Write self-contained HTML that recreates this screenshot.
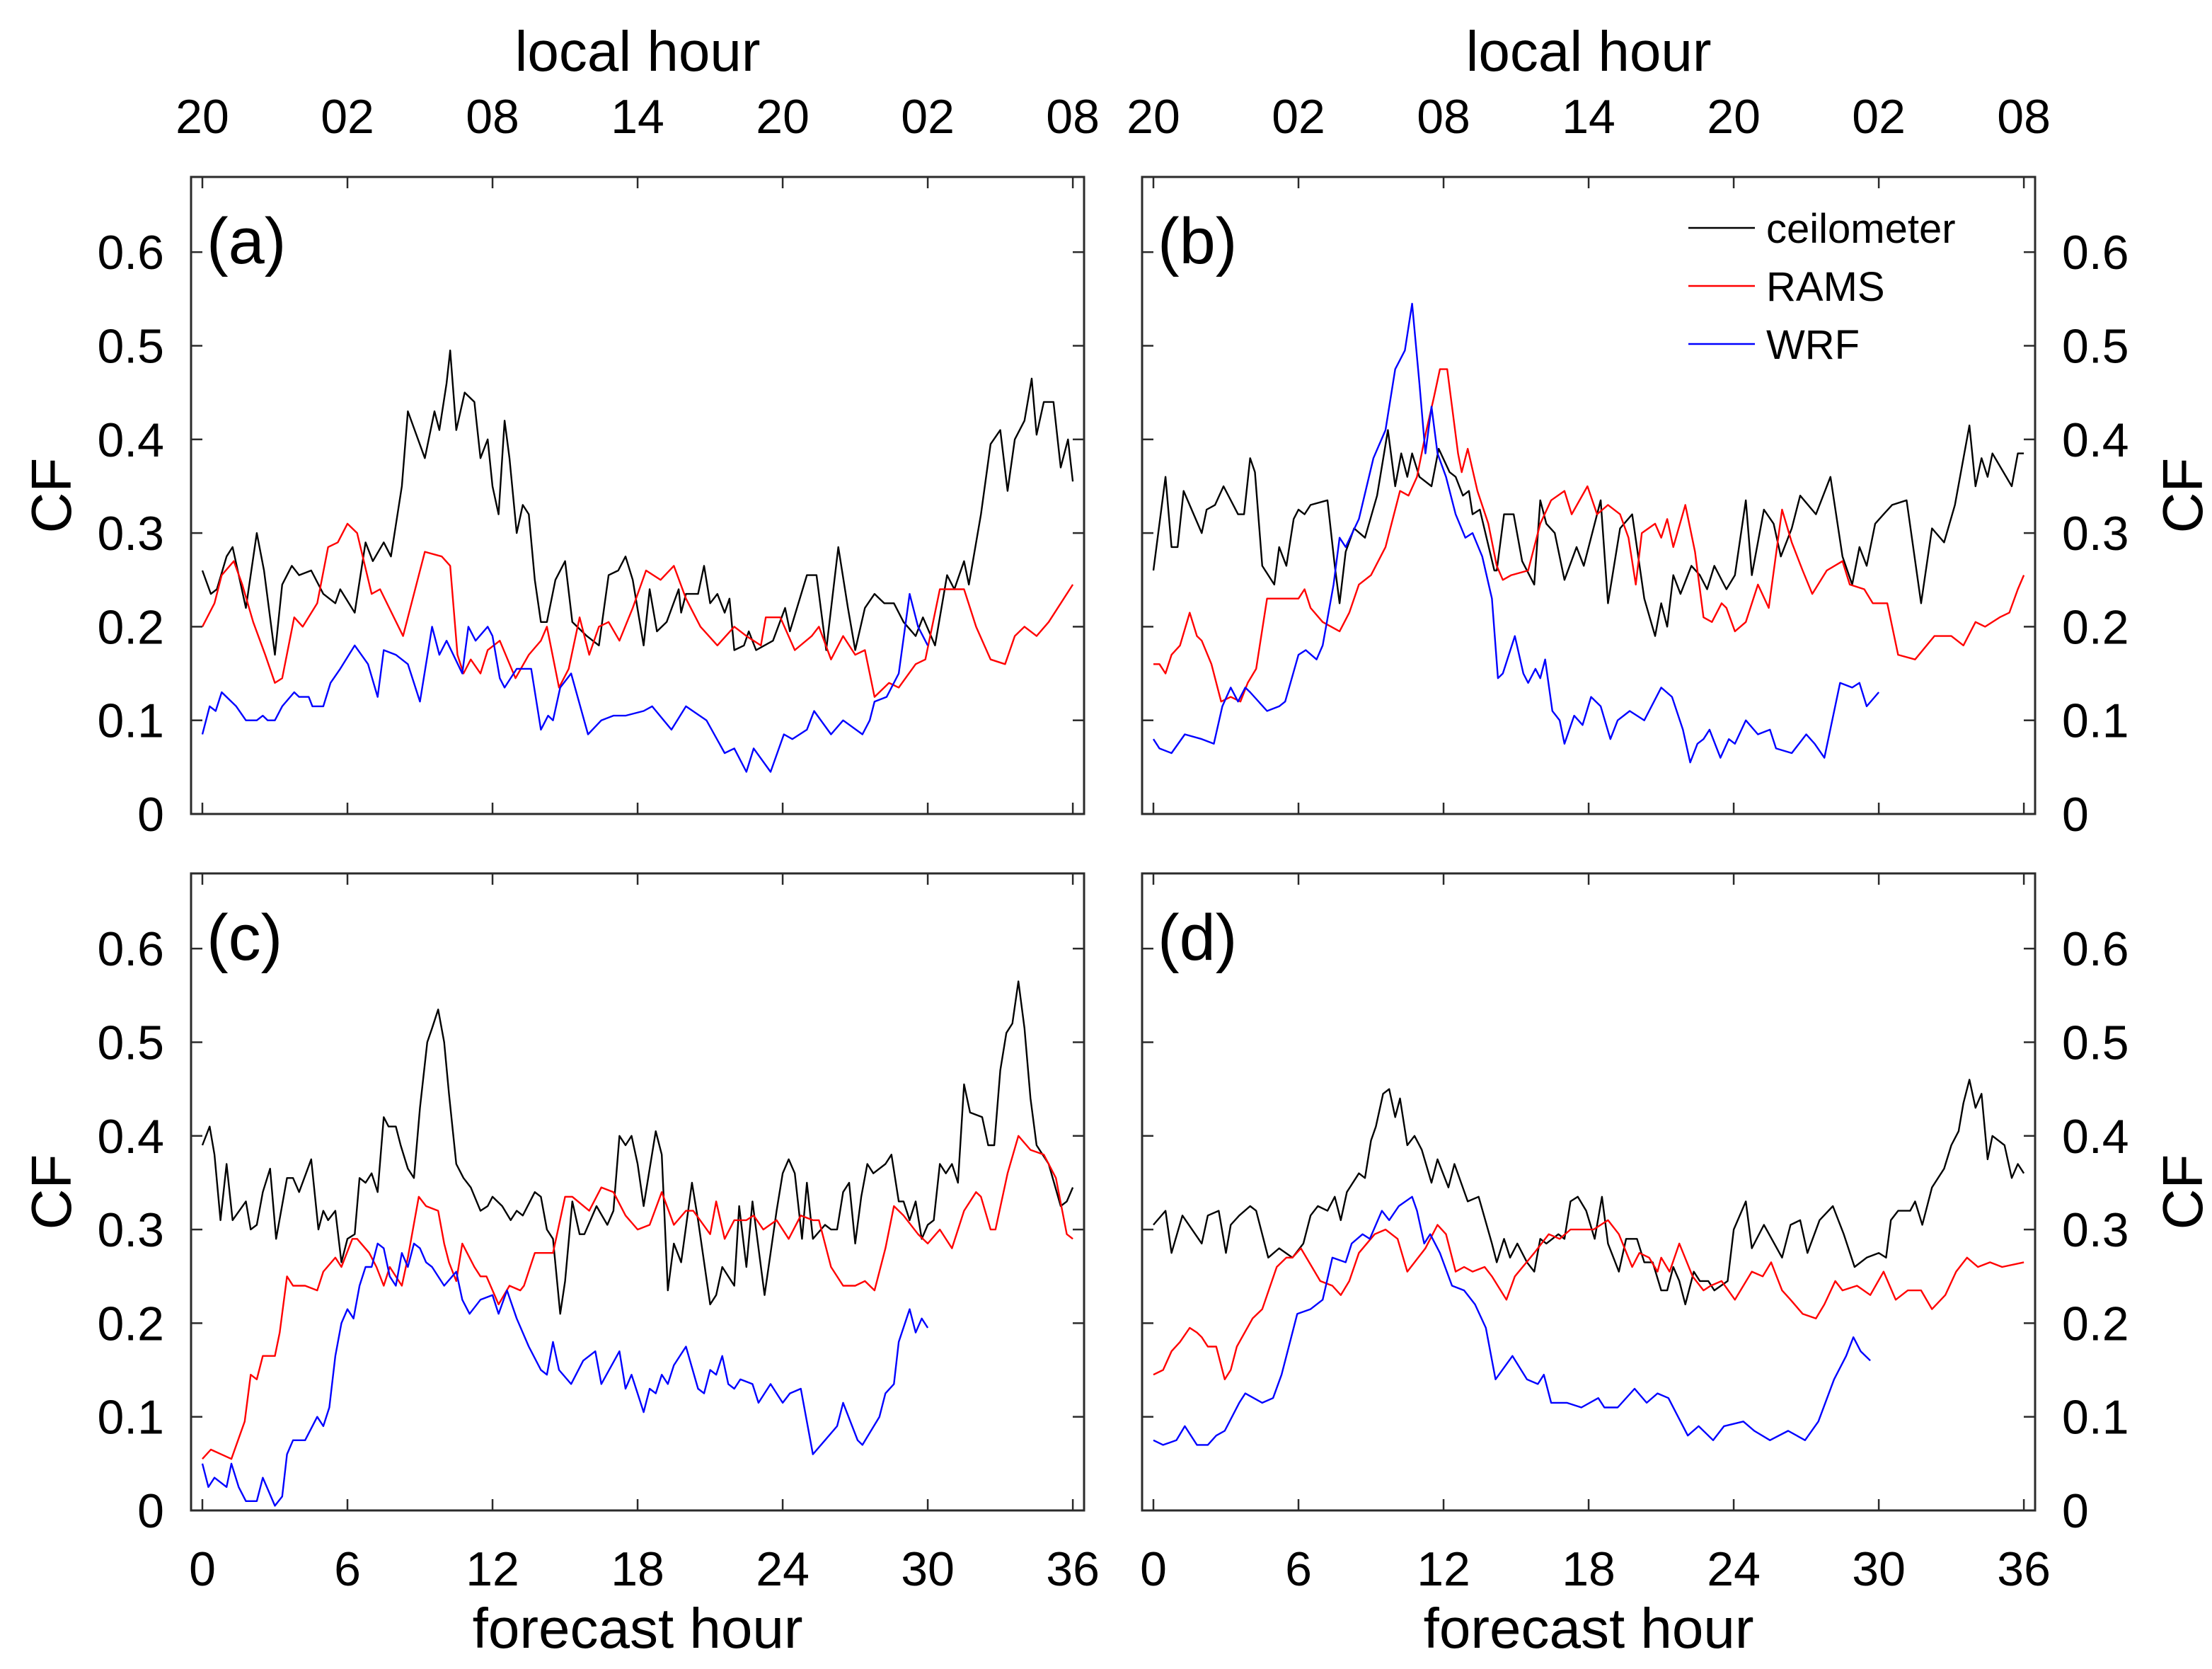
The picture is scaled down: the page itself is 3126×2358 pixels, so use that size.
<!DOCTYPE html>
<html><head><meta charset="utf-8"><style>
html,body{margin:0;padding:0;background:#fff}
svg{display:block;font-family:"Liberation Sans",Arial,sans-serif}
</style></head><body>
<svg id="chart" width="3126" height="2358" viewBox="0 0 3126 2358" xmlns="http://www.w3.org/2000/svg"></svg>
<script>
// ---- data (forecast hour, cloud fraction) ----
const xTicks=[0,6,12,18,24,30,36];
const localTicks=["20","02","08","14","20","02","08"];
const yTicks=[0,0.1,0.2,0.3,0.4,0.5,0.6];
const yTickLabels=["0","0.1","0.2","0.3","0.4","0.5","0.6"];

const aCeilH=[0,0.35,0.6,1,1.25,1.8,2.25,2.55,3,3.3,3.7,4,4.5,5,5.5,5.7,6.3,6.75,7.05,7.5,7.8,8.25,8.5,9.2,9.6,9.8,10.1,10.25,10.5,10.85,11.25,11.5,11.8,12,12.25,12.5,12.7,13,13.25,13.5,13.75,14,14.25,14.6,15,15.3,15.9,16.4,16.8,17.2,17.5,17.8,18.25,18.5,18.8,19.2,19.7,19.8,20,20.5,20.75,21,21.3,21.6,21.8,22,22.4,22.6,22.9,23.6,24.1,24.3,25,25.4,25.8,26.3,26.7,27,27.4,27.8,28.2,28.6,29,29.5,29.8,30.3,30.8,31.1,31.5,31.7,32.2,32.6,33,33.3,33.6,34,34.3,34.5,34.8,35.2,35.5,35.8,36];
const aCeilV=[0.26,0.235,0.24,0.275,0.285,0.22,0.30,0.26,0.17,0.245,0.265,0.255,0.26,0.235,0.225,0.24,0.215,0.29,0.27,0.29,0.275,0.35,0.43,0.38,0.43,0.41,0.46,0.495,0.41,0.45,0.44,0.38,0.40,0.35,0.32,0.42,0.38,0.30,0.33,0.32,0.25,0.205,0.205,0.25,0.27,0.205,0.19,0.18,0.255,0.26,0.275,0.25,0.18,0.24,0.195,0.205,0.24,0.215,0.235,0.235,0.265,0.225,0.235,0.215,0.23,0.175,0.18,0.195,0.175,0.185,0.22,0.195,0.255,0.255,0.175,0.285,0.22,0.175,0.22,0.235,0.225,0.225,0.205,0.19,0.21,0.18,0.255,0.24,0.27,0.245,0.32,0.395,0.41,0.345,0.40,0.42,0.465,0.405,0.44,0.44,0.37,0.40,0.355];
const aRamsH=[0,0.5,0.8,1.3,1.65,2.1,2.6,3,3.3,3.8,4.15,4.75,5.2,5.6,6,6.4,7,7.35,8.3,8.8,9.2,9.9,10.25,10.55,10.8,11.1,11.5,11.8,12.3,12.95,13.5,14,14.25,14.75,15.15,15.6,16,16.4,16.8,17.25,17.8,18.35,18.95,19.5,20,20.6,21.3,22,22.5,23.1,23.3,23.9,24.5,25.2,25.5,26,26.5,27,27.4,27.8,28.4,28.8,29.5,29.9,30.5,31.5,32,32.6,33.2,33.6,34,34.5,35,36];
const aRamsV=[0.20,0.225,0.255,0.27,0.245,0.205,0.17,0.14,0.145,0.21,0.20,0.225,0.285,0.29,0.31,0.30,0.235,0.24,0.19,0.24,0.28,0.275,0.265,0.17,0.15,0.165,0.15,0.175,0.185,0.145,0.17,0.185,0.20,0.135,0.155,0.21,0.17,0.20,0.205,0.185,0.22,0.26,0.25,0.265,0.23,0.20,0.18,0.20,0.19,0.18,0.21,0.21,0.175,0.19,0.20,0.165,0.19,0.17,0.175,0.125,0.14,0.135,0.16,0.165,0.24,0.24,0.20,0.165,0.16,0.19,0.20,0.19,0.205,0.245];
const aWrfH=[0,0.3,0.55,0.8,1.4,1.8,2.25,2.5,2.7,3,3.3,3.8,4,4.4,4.55,5,5.3,5.7,6.3,6.85,7.25,7.5,8,8.5,9,9.5,9.8,10.1,10.75,11,11.3,11.8,12,12.3,12.5,13,13.6,14,14.3,14.5,14.8,15.25,15.95,16.5,17,17.5,18.25,18.6,19.4,20,20.85,21.6,22,22.5,22.8,23.5,24.05,24.4,25,25.3,26,26.5,27.3,27.6,27.8,28.3,28.8,29.25,29.6,30];
const aWrfV=[0.085,0.115,0.11,0.13,0.115,0.10,0.10,0.105,0.10,0.10,0.115,0.13,0.125,0.125,0.115,0.115,0.14,0.155,0.18,0.16,0.125,0.175,0.17,0.16,0.12,0.20,0.17,0.185,0.15,0.20,0.185,0.20,0.19,0.145,0.135,0.155,0.155,0.09,0.105,0.10,0.135,0.15,0.085,0.10,0.105,0.105,0.11,0.115,0.09,0.115,0.10,0.065,0.07,0.045,0.07,0.045,0.085,0.08,0.09,0.11,0.085,0.10,0.085,0.10,0.12,0.125,0.15,0.235,0.20,0.18];

const bCeilH=[0,0.5,0.75,1,1.25,2,2.2,2.55,2.9,3.5,3.75,4,4.2,4.5,5,5.2,5.5,5.8,6,6.25,6.5,7.2,7.5,7.7,7.95,8.3,8.75,9.25,9.7,10,10.25,10.5,10.7,11,11.5,11.8,12.25,12.5,12.8,13.05,13.2,13.5,14.1,14.2,14.5,14.9,15.25,15.75,16,16.25,16.6,17,17.5,17.8,18.5,18.8,19.3,19.8,20.3,20.75,21,21.25,21.5,21.8,22.25,22.6,22.9,23.2,23.7,24.05,24.5,24.75,25.25,25.65,25.95,26.4,26.75,27.4,28,28.5,28.9,29.2,29.5,29.85,30.2,30.55,31.15,31.75,32.2,32.7,33.15,33.75,34,34.25,34.5,34.7,35.5,35.75,36];
const bCeilV=[0.26,0.36,0.285,0.285,0.345,0.30,0.325,0.33,0.35,0.32,0.32,0.38,0.365,0.265,0.245,0.285,0.265,0.315,0.325,0.32,0.33,0.335,0.265,0.225,0.28,0.305,0.295,0.34,0.41,0.35,0.385,0.36,0.385,0.36,0.35,0.39,0.365,0.36,0.34,0.345,0.32,0.325,0.26,0.26,0.32,0.32,0.27,0.245,0.335,0.31,0.30,0.25,0.285,0.265,0.335,0.225,0.305,0.32,0.23,0.19,0.225,0.20,0.255,0.235,0.265,0.255,0.24,0.265,0.24,0.255,0.335,0.255,0.325,0.31,0.275,0.305,0.34,0.32,0.36,0.275,0.245,0.285,0.265,0.31,0.32,0.33,0.335,0.225,0.305,0.29,0.33,0.415,0.35,0.38,0.36,0.385,0.35,0.385,0.385];
const bRamsH=[0,0.25,0.5,0.75,1.1,1.5,1.8,2,2.4,2.8,3.2,3.6,3.9,4.25,4.7,5.3,6,6.25,6.5,7,7.7,8.1,8.5,9,9.6,10.2,10.55,10.9,11.25,11.6,11.85,12.15,12.6,12.75,13,13.4,13.85,14.2,14.45,14.8,15.5,16,16.45,17,17.3,17.95,18.35,18.8,19.3,19.65,19.95,20.2,20.75,21,21.25,21.5,22,22.4,22.75,23.1,23.5,23.7,24.05,24.5,25,25.45,26,26.4,26.85,27.25,27.85,28.5,28.8,29.4,29.75,30.35,30.8,31.5,32.3,33,33.5,34,34.4,35,35.4,35.75,36];
const bRamsV=[0.16,0.16,0.15,0.17,0.18,0.215,0.19,0.185,0.16,0.12,0.125,0.12,0.14,0.155,0.23,0.23,0.23,0.24,0.22,0.205,0.195,0.215,0.245,0.255,0.285,0.345,0.34,0.36,0.405,0.445,0.475,0.475,0.385,0.365,0.39,0.345,0.31,0.265,0.25,0.255,0.26,0.31,0.335,0.345,0.32,0.35,0.32,0.33,0.32,0.295,0.245,0.30,0.31,0.295,0.315,0.285,0.33,0.28,0.21,0.205,0.225,0.22,0.195,0.205,0.245,0.22,0.325,0.29,0.26,0.235,0.26,0.27,0.245,0.24,0.225,0.225,0.17,0.165,0.19,0.19,0.18,0.205,0.20,0.21,0.215,0.24,0.255];
const bWrfH=[0,0.25,0.75,1.3,2,2.5,2.85,3.2,3.5,3.8,4,4.7,5.2,5.45,6,6.3,6.75,7,7.45,7.7,7.95,8.5,9.1,9.6,10,10.4,10.7,11,11.25,11.5,11.75,12.1,12.5,12.9,13.2,13.6,14,14.25,14.45,14.95,15.3,15.5,15.8,16,16.2,16.5,16.8,17,17.4,17.75,18.1,18.5,18.9,19.2,19.7,20.3,21,21.45,21.9,22.2,22.5,22.75,23,23.45,23.8,24.05,24.5,25,25.5,25.75,26.4,27,27.35,27.75,28.4,28.9,29.2,29.5,30];
const bWrfV=[0.08,0.07,0.065,0.085,0.08,0.075,0.115,0.135,0.12,0.135,0.13,0.11,0.115,0.12,0.17,0.175,0.165,0.18,0.245,0.295,0.285,0.315,0.38,0.41,0.475,0.495,0.545,0.46,0.385,0.435,0.385,0.36,0.32,0.295,0.30,0.275,0.23,0.145,0.15,0.19,0.15,0.14,0.155,0.145,0.165,0.11,0.10,0.075,0.105,0.095,0.125,0.115,0.08,0.10,0.11,0.10,0.135,0.125,0.09,0.055,0.075,0.08,0.09,0.06,0.08,0.075,0.10,0.085,0.09,0.07,0.065,0.085,0.075,0.06,0.14,0.135,0.14,0.115,0.13];

const cCeilH=[0,0.3,0.5,0.75,1,1.25,1.8,2,2.25,2.5,2.8,3.05,3.5,3.75,4,4.5,4.8,5,5.2,5.5,5.75,6,6.3,6.5,6.75,7,7.25,7.5,7.7,8,8.2,8.5,8.75,9,9.3,9.5,9.75,10,10.2,10.5,10.8,11.1,11.5,11.8,12,12.4,12.75,13,13.25,13.75,14,14.25,14.5,14.8,15,15.3,15.6,15.8,16.3,16.75,17,17.25,17.5,17.75,18,18.25,18.75,19,19.25,19.5,19.8,20.25,20.5,21,21.25,21.5,22,22.2,22.5,22.75,23.25,23.75,24,24.25,24.5,24.8,25,25.25,25.75,26,26.25,26.5,26.75,27,27.25,27.5,27.75,28.25,28.5,28.8,29,29.25,29.5,29.75,30,30.25,30.5,30.75,31,31.25,31.5,31.75,32.25,32.5,32.75,33,33.25,33.5,33.75,34,34.25,34.5,35,35.5,35.75,36];
const cCeilV=[0.39,0.41,0.38,0.31,0.37,0.31,0.33,0.30,0.305,0.34,0.365,0.29,0.355,0.355,0.34,0.375,0.30,0.32,0.31,0.32,0.265,0.29,0.295,0.355,0.35,0.36,0.34,0.42,0.41,0.41,0.39,0.365,0.355,0.43,0.50,0.515,0.535,0.50,0.445,0.37,0.355,0.345,0.32,0.325,0.335,0.325,0.31,0.32,0.315,0.34,0.335,0.30,0.29,0.21,0.245,0.33,0.295,0.295,0.325,0.305,0.32,0.40,0.39,0.40,0.37,0.325,0.405,0.38,0.235,0.285,0.265,0.35,0.31,0.22,0.23,0.26,0.24,0.325,0.26,0.33,0.23,0.32,0.36,0.375,0.36,0.29,0.35,0.29,0.305,0.30,0.30,0.34,0.35,0.285,0.335,0.37,0.36,0.37,0.38,0.33,0.33,0.31,0.33,0.29,0.305,0.31,0.37,0.36,0.37,0.35,0.455,0.425,0.42,0.39,0.39,0.47,0.51,0.52,0.565,0.515,0.44,0.39,0.37,0.325,0.33,0.345];
const cRamsH=[0,0.35,1.2,1.75,2,2.25,2.5,3,3.2,3.5,3.75,4.25,4.75,5,5.5,5.75,6.2,6.4,6.9,7.2,7.5,7.75,8.25,8.5,8.95,9.25,9.75,10,10.2,10.5,10.75,11.25,11.5,11.75,12.25,12.7,13.15,13.3,13.75,14.5,15,15.3,16,16.5,17,17.5,18,18.5,19,19.5,20,20.3,21,21.25,21.6,22,22.5,22.8,23.2,23.75,24.25,24.75,25.25,25.5,26,26.5,27,27.4,27.8,28.25,28.6,29,29.6,30,30.5,31,31.5,32,32.2,32.6,32.8,33.3,33.75,34.25,34.8,35.3,35.75,36];
const cRamsV=[0.055,0.065,0.055,0.095,0.145,0.14,0.165,0.165,0.19,0.25,0.24,0.24,0.235,0.255,0.27,0.26,0.29,0.29,0.275,0.26,0.24,0.26,0.24,0.27,0.335,0.325,0.32,0.285,0.265,0.245,0.285,0.26,0.25,0.25,0.22,0.24,0.235,0.24,0.275,0.275,0.335,0.335,0.32,0.345,0.34,0.315,0.30,0.305,0.34,0.305,0.32,0.32,0.295,0.33,0.29,0.31,0.31,0.315,0.30,0.31,0.29,0.315,0.31,0.31,0.26,0.24,0.24,0.245,0.235,0.28,0.325,0.315,0.295,0.285,0.30,0.28,0.32,0.34,0.335,0.30,0.30,0.36,0.40,0.385,0.38,0.355,0.295,0.29];
const cWrfH=[0,0.25,0.5,1,1.2,1.5,1.8,2.25,2.5,3,3.3,3.5,3.75,4.25,4.75,5,5.25,5.5,5.75,6,6.25,6.5,6.75,7,7.25,7.5,7.75,8,8.25,8.5,8.75,9,9.25,9.5,10,10.5,10.75,11.05,11.5,12,12.25,12.6,13,13.5,14,14.25,14.5,14.75,15.25,15.75,16.25,16.5,17.25,17.5,17.75,18.25,18.5,18.75,19,19.25,19.5,20,20.5,20.75,21,21.25,21.5,21.75,22,22.25,22.75,23,23.5,24,24.3,24.75,25.25,25.75,26.25,26.5,27.1,27.3,28,28.25,28.6,28.8,29.25,29.5,29.75,30];
const cWrfV=[0.05,0.025,0.035,0.025,0.05,0.025,0.01,0.01,0.035,0.005,0.015,0.06,0.075,0.075,0.10,0.09,0.11,0.165,0.20,0.215,0.205,0.24,0.26,0.26,0.285,0.28,0.25,0.24,0.275,0.26,0.285,0.28,0.265,0.26,0.24,0.255,0.225,0.21,0.225,0.23,0.21,0.235,0.205,0.175,0.15,0.145,0.18,0.15,0.135,0.16,0.17,0.135,0.17,0.13,0.145,0.105,0.13,0.125,0.145,0.135,0.155,0.175,0.13,0.125,0.15,0.145,0.165,0.135,0.13,0.14,0.135,0.115,0.135,0.115,0.125,0.13,0.06,0.075,0.09,0.115,0.075,0.07,0.10,0.125,0.135,0.18,0.215,0.19,0.205,0.195];

const dCeilH=[0,0.5,0.75,1.2,2,2.25,2.7,3,3.2,3.55,4,4.25,4.75,5.2,5.75,6.2,6.5,6.8,7.2,7.5,7.75,8,8.5,8.75,9,9.2,9.5,9.75,10,10.2,10.5,10.8,11.1,11.5,11.75,12.2,12.45,13,13.45,14,14.2,14.5,14.75,15.05,15.45,15.75,16,16.25,16.75,17,17.25,17.55,17.9,18.25,18.55,18.8,19.25,19.55,20,20.3,20.65,21,21.25,21.5,21.75,22,22.35,22.6,22.95,23.2,23.75,24,24.5,24.75,25.25,26,26.35,26.75,27.05,27.55,28.1,28.55,29,29.5,30,30.3,30.5,30.8,31.3,31.5,31.8,32.2,32.7,33,33.3,33.5,33.75,34,34.25,34.5,34.7,35.2,35.5,35.75,36];
const dCeilV=[0.305,0.32,0.275,0.315,0.285,0.315,0.32,0.275,0.305,0.315,0.325,0.32,0.27,0.28,0.27,0.285,0.315,0.325,0.32,0.335,0.31,0.34,0.36,0.355,0.395,0.41,0.445,0.45,0.42,0.44,0.39,0.40,0.385,0.35,0.375,0.345,0.37,0.33,0.335,0.285,0.265,0.29,0.27,0.285,0.265,0.255,0.29,0.285,0.295,0.29,0.33,0.335,0.32,0.29,0.335,0.285,0.255,0.29,0.29,0.265,0.265,0.235,0.235,0.26,0.245,0.22,0.255,0.245,0.245,0.235,0.245,0.30,0.33,0.28,0.305,0.27,0.305,0.31,0.275,0.31,0.325,0.295,0.26,0.27,0.275,0.27,0.31,0.32,0.32,0.33,0.305,0.345,0.365,0.39,0.405,0.435,0.46,0.43,0.445,0.375,0.40,0.39,0.355,0.37,0.36];
const dRamsH=[0,0.4,0.75,1.1,1.5,1.8,2,2.25,2.6,2.95,3.2,3.45,4.1,4.5,5.1,5.5,5.75,6.1,6.9,7.4,7.75,8.1,8.5,9.15,9.6,10.1,10.5,11.25,11.75,12.1,12.5,12.85,13.2,13.7,14,14.6,14.95,15.75,16.35,16.8,17.25,17.75,18.2,18.8,19.25,19.8,20.1,20.5,20.85,21,21.35,21.75,22.3,22.75,23.05,23.5,24.05,24.75,25.2,25.55,26,26.35,26.85,27.4,27.75,28.2,28.5,29.1,29.65,30.2,30.7,31.2,31.75,32.2,32.75,33.2,33.65,34.1,34.6,35.1,36];
const dRamsV=[0.145,0.15,0.17,0.18,0.195,0.19,0.185,0.175,0.175,0.14,0.15,0.175,0.205,0.215,0.26,0.27,0.27,0.28,0.245,0.24,0.23,0.245,0.275,0.295,0.30,0.29,0.255,0.28,0.305,0.295,0.255,0.26,0.255,0.26,0.25,0.225,0.25,0.275,0.295,0.29,0.30,0.30,0.30,0.31,0.295,0.26,0.275,0.27,0.255,0.27,0.255,0.285,0.25,0.235,0.24,0.245,0.225,0.255,0.25,0.265,0.235,0.225,0.21,0.205,0.22,0.245,0.235,0.24,0.23,0.255,0.225,0.235,0.235,0.215,0.23,0.255,0.27,0.26,0.265,0.26,0.265];
const dWrfH=[0,0.4,0.95,1.3,1.8,2.25,2.6,2.95,3.55,3.8,4.5,4.95,5.3,5.95,6.5,7,7.4,7.95,8.2,8.65,8.95,9.45,9.75,10.15,10.7,10.9,11.2,11.45,11.85,12.35,12.85,13.3,13.75,14.15,14.85,15.45,15.9,16.15,16.45,17.1,17.7,18.4,18.65,19.2,19.9,20.4,20.85,21.3,22.1,22.55,23.15,23.6,24.4,24.85,25.5,26.25,26.95,27.5,28.15,28.65,28.95,29.25,29.65];
const dWrfV=[0.075,0.07,0.075,0.09,0.07,0.07,0.08,0.085,0.115,0.125,0.115,0.12,0.145,0.21,0.215,0.225,0.27,0.265,0.285,0.295,0.29,0.32,0.31,0.325,0.335,0.32,0.285,0.295,0.275,0.24,0.235,0.22,0.195,0.14,0.165,0.14,0.135,0.145,0.115,0.115,0.11,0.12,0.11,0.11,0.13,0.115,0.125,0.12,0.08,0.09,0.075,0.09,0.095,0.085,0.075,0.085,0.075,0.095,0.14,0.165,0.185,0.17,0.16];

const panels=[
 {id:"a",left:270,top:250,x0:286,y0:1150,leftLabels:true,topLabels:true,bottomLabels:false,series:[[aCeilH,aCeilV],[aRamsH,aRamsV],[aWrfH,aWrfV]]},
 {id:"b",left:1614,top:250,x0:1630,y0:1150,leftLabels:false,topLabels:true,bottomLabels:false,series:[[bCeilH,bCeilV],[bRamsH,bRamsV],[bWrfH,bWrfV]]},
 {id:"c",left:270,top:1234,x0:286,y0:2134,leftLabels:true,topLabels:false,bottomLabels:true,series:[[cCeilH,cCeilV],[cRamsH,cRamsV],[cWrfH,cWrfV]]},
 {id:"d",left:1614,top:1234,x0:1630,y0:2134,leftLabels:false,topLabels:false,bottomLabels:true,series:[[dCeilH,dCeilV],[dRamsH,dRamsV],[dWrfH,dWrfV]]}
];
const colors=["#000000","#ff0000","#0000ff"];
const names=["ceilometer","RAMS","WRF"];
const W=1262,H=900,XS=34.17,YS=1323;
const NS="http://www.w3.org/2000/svg";
const svg=document.getElementById("chart");
function mk(tag,attrs,parent){const e=document.createElementNS(NS,tag);for(const k in attrs)e.setAttribute(k,attrs[k]);(parent||svg).appendChild(e);return e;}
function txt(s,attrs,parent){const e=mk("text",attrs,parent);e.textContent=s;return e;}

panels.forEach(p=>{
 const g=mk("g",{});
 
 
 const xs=h=>p.x0+h*XS, ys=v=>p.y0-v*YS;
 p.series.forEach((s,i)=>{
  const d=s[0].map((h,k)=>(k?"L":"M")+xs(h).toFixed(1)+" "+ys(s[1][k]).toFixed(1)).join(" ");
  const path=mk("path",{d:d,fill:"none",stroke:colors[i],"stroke-width":2.4,"stroke-linejoin":"round"},g);
  
  
 });
 const fr=mk("rect",{x:p.left,y:p.top,width:W,height:H,fill:"none",stroke:"#2b2b2b","stroke-width":3},g);
 
 
 xTicks.forEach((h,k)=>{
  const x=xs(h);
  mk("line",{x1:x,y1:p.top+H,x2:x,y2:p.top+H-16,stroke:"#2b2b2b","stroke-width":2.5},g);
  mk("line",{x1:x,y1:p.top,x2:x,y2:p.top+16,stroke:"#2b2b2b","stroke-width":2.5},g);
  if(p.bottomLabels){const t=txt(String(h),{x:x,y:p.y0+106,"font-size":68,"text-anchor":"middle"},g);
   
   }
  if(p.topLabels){const t=txt(localTicks[k],{x:x,y:188,"font-size":68,"text-anchor":"middle"},g);
   
   }
 });
 yTicks.forEach((v,k)=>{
  const y=ys(v);
  mk("line",{x1:p.left,y1:y,x2:p.left+16,y2:y,stroke:"#2b2b2b","stroke-width":2.5},g);
  mk("line",{x1:p.left+W,y1:y,x2:p.left+W-16,y2:y,stroke:"#2b2b2b","stroke-width":2.5},g);
  const t=p.leftLabels?txt(yTickLabels[k],{x:232,y:y+24,"font-size":68,"text-anchor":"end"},g)
                      :txt(yTickLabels[k],{x:2914,y:y+24,"font-size":68,"text-anchor":"start"},g);
  
  
 });
 const lt=txt("("+p.id+")",{x:p.left+22,y:p.top+122,"font-size":92},g);
 
 
 if(p.leftLabels){const t=txt("CF",{x:0,y:0,"font-size":80,"text-anchor":"middle",transform:"translate(100,"+(p.top+H/2)+") rotate(-90)"},g);
  
  }
 else{const t=txt("CF",{x:0,y:0,"font-size":80,"text-anchor":"middle",transform:"translate(3112,"+(p.top+H/2)+") rotate(-90)"},g);
  
  }
 if(p.topLabels){const t=txt("local hour",{x:p.x0+18*XS,y:100,"font-size":80,"text-anchor":"middle"},g);
  
  }
 if(p.bottomLabels){const t=txt("forecast hour",{x:p.x0+18*XS,y:2328,"font-size":80,"text-anchor":"middle"},g);
  
  }
});
const lg=mk("g",{});


names.forEach((n,i)=>{
 const y=322+i*82;
 const e=mk("g",{},lg);
 
 
 mk("line",{x1:2386,y1:y,x2:2480,y2:y,stroke:colors[i],"stroke-width":2.4},e);
 txt(n,{x:2496,y:y+21,"font-size":58},e);
});
</script>
</body></html>
